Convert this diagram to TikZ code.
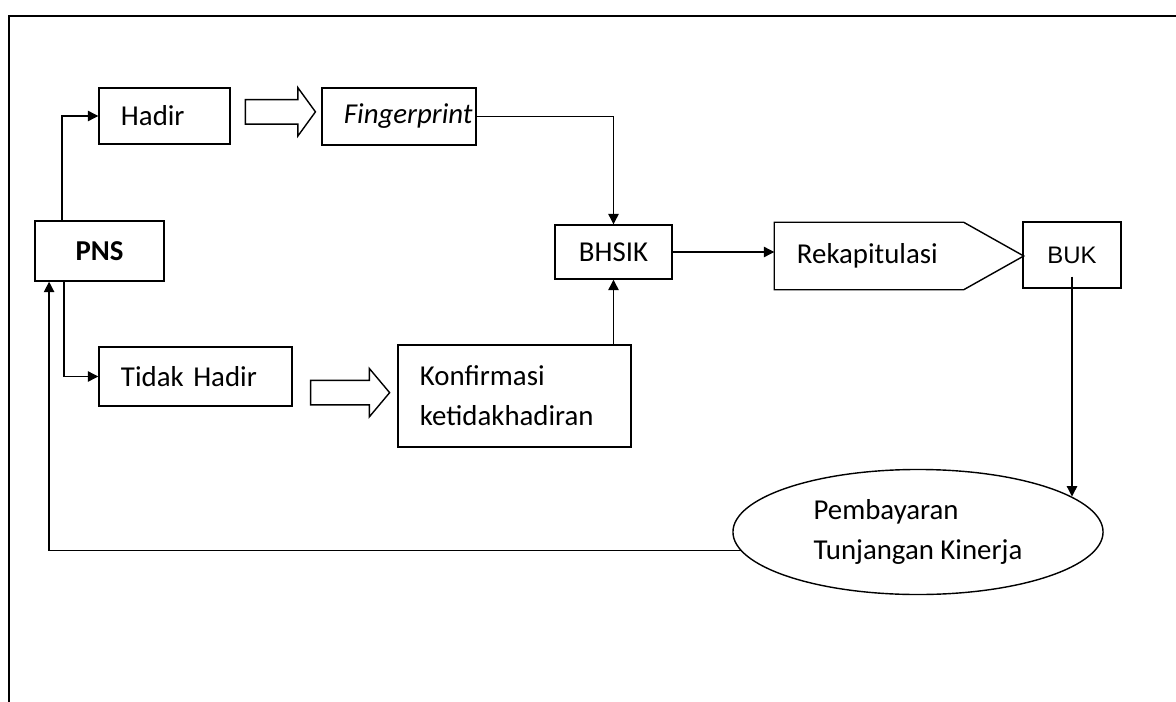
\documentclass[tikz,border=0pt]{standalone}
\usepackage{fontspec}
\setmainfont{Carlito}
\newfontfamily\arialfont{Liberation Sans}
\usetikzlibrary{arrows.meta,positioning,shapes.geometric,shapes.arrows,calc}

\begin{document}
\begin{tikzpicture}[
  x=0.025cm, y=-0.025cm,
  font=\fontsize{20.5}{28.5}\selectfont,
  box/.style={draw, line width=1pt, inner xsep=5.5mm, inner ysep=0pt, align=left},
  cbox/.style={draw, line width=1pt, inner sep=0pt, align=center},
  arr/.style={-{Triangle[length=2.6mm,width=2.6mm]}, line width=0.9pt},
  fat/.style={single arrow, draw, line width=1pt, inner xsep=0pt, inner ysep=2.875mm,
    single arrow head extend=3mm}
]
\useasboundingbox (0,0) rectangle (1176,702);
% frame
\draw[line width=1.6pt] (9,702) -- (9,16) -- (1176,16);

% boxes
\node[cbox, minimum width=32.25mm, minimum height=15mm, font=\fontsize{20.5}{28.5}\selectfont\bfseries] (pns) at (99.5,251) {PNS};
\node[box, text width=21.75mm, minimum height=14mm] (hadir) at (164.5,116) {Hadir};
\node[box, text width=27.5mm, minimum height=14.25mm] (finger) at (399,116.5) {\itshape Fingerprint};
\node[box, text width=37.25mm, minimum height=14.75mm] (tidak) at (195.5,376.5) {Tidak Hadir};
\node[box, text width=47.25mm, minimum height=25.5mm] (konf) at (514.5,396) {Konfirmasi\\ketidakhadiran};
\node[cbox, minimum width=29.25mm, minimum height=13.5mm] (bhsik) at (613.5,252) {BHSIK};
\node[box, draw=none, text width=51mm, minimum height=16.5mm] (rek) at (899,256) {Rekapitulasi};
\draw[line width=1pt] (rek.north west) -- ([xshift=-15mm]rek.north east) -- (rek.east)
  -- ([xshift=-15mm]rek.south east) -- (rek.south west) -- cycle;
\node[cbox, minimum width=24.5mm, minimum height=16.5mm, font=\arialfont\fontsize{17}{20}\selectfont] (buk) at (1072,255) {BUK};
\node[ellipse, draw, line width=1pt, minimum width=92.5mm, minimum height=31.25mm,
  inner sep=0pt, align=left] (pemb) at (918,532) {Pembayaran\\Tunjangan Kinerja};

% block arrows
\node[fat, minimum height=17.5mm, single arrow tip angle=108, yshift=1.1mm] (fat1)
  at ($(hadir.east)!0.5!(finger.west)$) {};
\node[fat, minimum height=19.75mm, single arrow tip angle=100, yshift=-1.6mm] (fat2)
  at ($(tidak.east)!0.5!(konf.west)$) {};

% connectors
\draw[arr] ([xshift=-9.4mm]pns.north) |- (hadir.west);
\draw[arr] ([xshift=-8.9mm]pns.south) |- (tidak.west);
\draw[arr] (finger.east) -| (bhsik.north);
\draw[arr] (konf.north -| bhsik.south) -- (bhsik.south);
\draw[arr] (bhsik.east) -- (bhsik.east -| rek.west);
\coordinate (bukout) at ([yshift=3mm]buk.south);
\draw[arr] (bukout) -- (bukout |- pemb.13);
\draw[arr] (pemb.186) -| ([xshift=-12.6mm]pns.south);
\end{tikzpicture}
\end{document}
